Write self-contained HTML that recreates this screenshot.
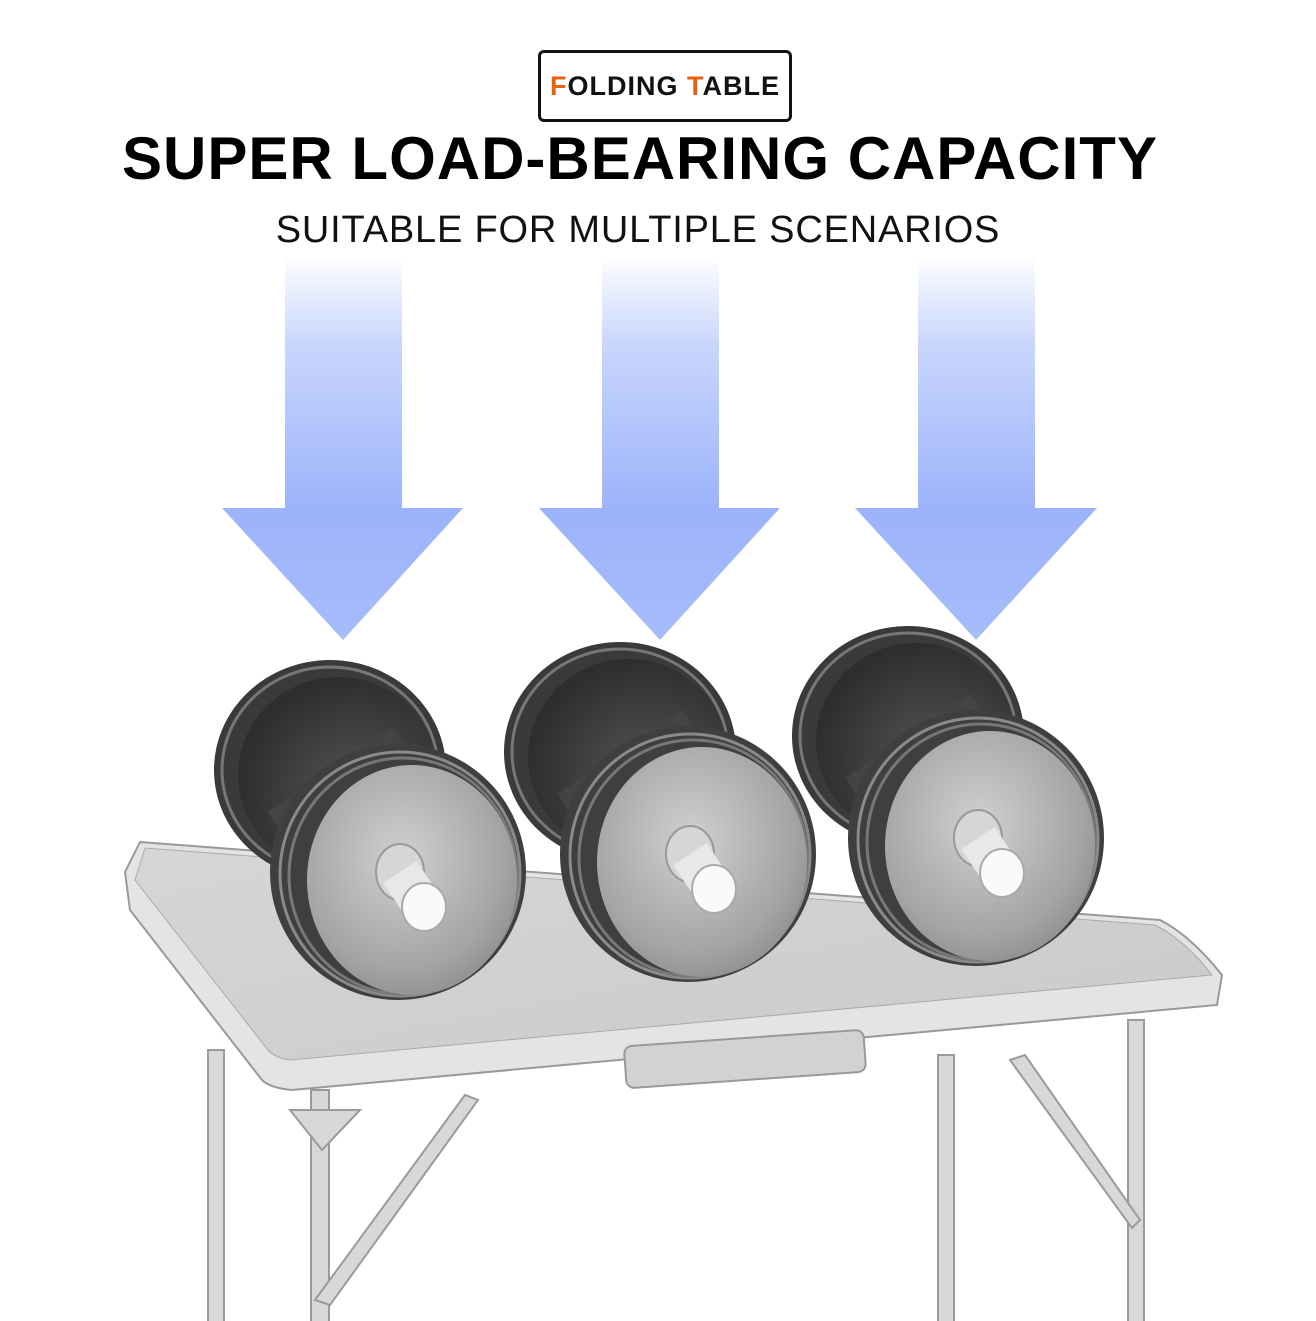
<!DOCTYPE html>
<html><head><style>
html,body{margin:0;padding:0;background:#fff;}
body{width:1316px;height:1321px;position:relative;overflow:hidden;font-family:"Liberation Sans","DejaVu Sans",sans-serif;}
.badge{position:absolute;left:538px;top:50px;width:254px;height:72px;border:3px solid #111;border-radius:6px;box-sizing:border-box;text-align:center;line-height:66px;font-weight:bold;font-size:27px;letter-spacing:1px;color:#111;}
.badge span{color:#e8620e;}
.h1{position:absolute;left:-18px;width:1316px;top:124px;text-align:center;font-weight:900;font-size:60px;letter-spacing:1px;color:#000;}
.h2{position:absolute;left:-20px;width:1316px;top:209px;text-align:center;font-size:38px;color:#111;letter-spacing:0.8px;}
svg{position:absolute;left:0;top:0;}
</style></head><body>
<svg width="1316" height="1321" viewBox="0 0 1316 1321">
<defs>
<linearGradient id="ar" x1="0" y1="0" x2="0" y2="1">
<stop offset="0" stop-color="#fff"/><stop offset="0.35" stop-color="#c9d6fc"/><stop offset="1" stop-color="#9cb3fb"/>
</linearGradient>
<linearGradient id="ah" x1="0" y1="0" x2="0" y2="1">
<stop offset="0" stop-color="#9cb3fb"/><stop offset="1" stop-color="#a6bcfb"/>
</linearGradient>
<linearGradient id="top" x1="0" y1="0" x2="1" y2="1">
<stop offset="0" stop-color="#d6d6d6"/><stop offset="1" stop-color="#cacaca"/>
</linearGradient>
<radialGradient id="face" cx="0.45" cy="0.4" r="0.7">
<stop offset="0" stop-color="#d0d0d0"/><stop offset="0.7" stop-color="#a4a4a4"/><stop offset="1" stop-color="#868686"/>
</radialGradient>
<radialGradient id="back" cx="0.6" cy="0.6" r="0.6">
<stop offset="0" stop-color="#555"/><stop offset="1" stop-color="#2e2e2e"/>
</radialGradient>
<g id="db">
<ellipse cx="330" cy="770" rx="116" ry="110" fill="#3a3a3a"/>
<ellipse cx="330" cy="770" rx="108" ry="103" fill="none" stroke="#777" stroke-width="3"/>
<ellipse cx="338" cy="775" rx="100" ry="98" fill="url(#back)"/>
<path d="M330,770 L398,872" stroke="#444" stroke-width="150"/>
<ellipse cx="398" cy="872" rx="128" ry="128" fill="#3f3f3f"/>
<ellipse cx="400" cy="874" rx="120" ry="122" fill="none" stroke="#8a8a8a" stroke-width="3"/>
<ellipse cx="403" cy="876" rx="114" ry="118" fill="none" stroke="#777" stroke-width="3"/>
<ellipse cx="412" cy="880" rx="105" ry="115" fill="url(#face)"/>
<ellipse cx="400" cy="872" rx="24" ry="28" fill="#d6d6d6" stroke="#999" stroke-width="2"/>
<path d="M400,872 L420,902" stroke="#e8e8e8" stroke-width="40"/>
<ellipse cx="424" cy="907" rx="22" ry="24" fill="#fafafa" stroke="#aaa" stroke-width="2"/>
</g>
</defs>
<rect x="285" y="255" width="117" height="254" fill="url(#ar)"/>
<polygon points="222,508 463,508 343,640" fill="url(#ah)"/>
<rect x="602" y="255" width="117" height="254" fill="url(#ar)"/>
<polygon points="539,508 780,508 660,640" fill="url(#ah)"/>
<rect x="918" y="255" width="117" height="254" fill="url(#ar)"/>
<polygon points="855,508 1097,508 976,640" fill="url(#ah)"/>
<g fill="#d8d8d8" stroke="#9a9a9a" stroke-width="2">
<rect x="208" y="1050" width="16" height="280"/>
<rect x="311" y="1090" width="18" height="240"/>
<rect x="938" y="1055" width="16" height="280"/>
<rect x="1128" y="1020" width="16" height="310"/>
<polygon points="315,1300 465,1095 478,1100 330,1305"/>
<polygon points="1010,1060 1025,1055 1140,1220 1132,1228"/>
<polygon points="290,1110 360,1110 322,1150"/>
</g>
<path d="M140,842 L1160,920 Q1190,935 1222,975 L1217,1005 L292,1090 Q270,1088 262,1080 L130,910 L125,872 Z" fill="#e4e4e4" stroke="#999" stroke-width="2"/>
<path d="M145,848 L1155,925 Q1185,940 1212,975 L290,1060 Q275,1058 268,1050 L135,880 Z" fill="url(#top)" stroke="#aaa" stroke-width="1"/>
<rect x="625" y="1038" width="240" height="42" rx="8" fill="#d2d2d2" stroke="#999" stroke-width="2" transform="rotate(-4 745 1059)"/>
<use href="#db"/>
<use href="#db" transform="translate(290,-18)"/>
<use href="#db" transform="translate(578,-34)"/>
</svg>
<div class="badge"><span>F</span>OLDING <span>T</span>ABLE</div>
<div class="h1">SUPER LOAD-BEARING CAPACITY</div>
<div class="h2">SUITABLE FOR MULTIPLE SCENARIOS</div>
</body></html>
